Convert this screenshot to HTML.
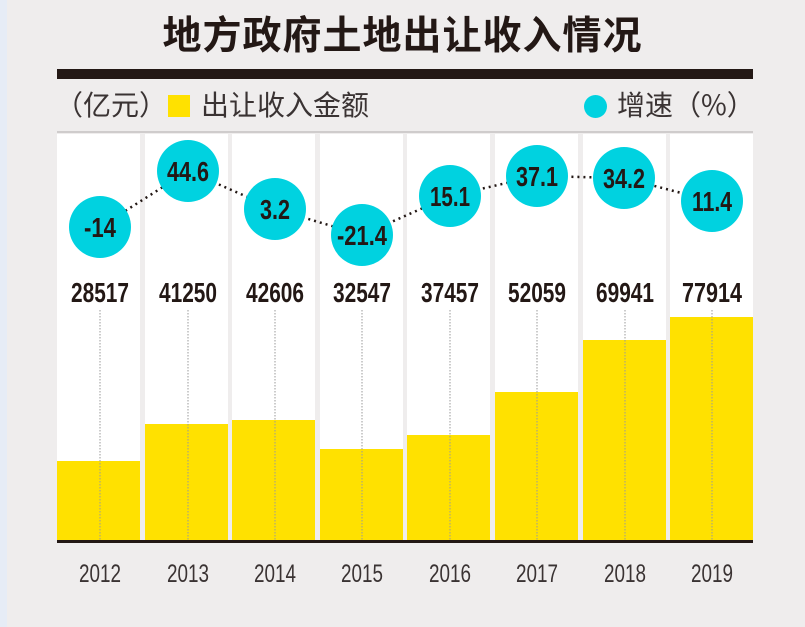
<!DOCTYPE html>
<html><head><meta charset="utf-8"><style>
html,body{margin:0;padding:0}
body{width:805px;height:627px;background:#efeded;position:relative;overflow:hidden;font-family:"Liberation Sans","Noto Sans CJK SC",sans-serif}
.t{position:absolute;white-space:nowrap}
</style></head><body>
<div style="position:absolute;left:0;top:0;width:7px;height:627px;background:#e6ecf6"></div>
<div class="t" style="left:0;width:805px;text-align:center;top:5px;font-size:39px;font-weight:bold;color:#231815;letter-spacing:1px;font-family:'Noto Sans CJK SC',sans-serif">地方政府土地出让收入情况</div>
<div style="position:absolute;left:57px;top:69px;width:696px;height:10px;background:#231815"></div>
<div class="t" style="left:55px;top:84px;font-size:28px;color:#3a3333;font-family:'Noto Sans CJK SC',sans-serif">（亿元）</div>
<div style="position:absolute;left:168px;top:95px;width:22px;height:22px;background:#ffe100"></div>
<div class="t" style="left:201px;top:84px;font-size:28px;color:#3a3333;font-family:'Noto Sans CJK SC',sans-serif">出让收入金额</div>
<div style="position:absolute;left:584px;top:95px;width:23px;height:23px;border-radius:50%;background:#00d2e0"></div>
<div class="t" style="left:617px;top:84px;font-size:28px;color:#3a3333;font-family:'Noto Sans CJK SC',sans-serif">增速（%）</div>
<div style="position:absolute;left:57px;top:131px;width:696px;height:2px;background:#cfcccc"></div>
<svg style="position:absolute;left:0;top:0" width="805" height="627">
<g fill="#fff">
<rect x="57" y="134" width="83" height="407"/><rect x="145" y="134" width="83" height="407"/><rect x="232" y="134" width="83" height="407"/><rect x="320" y="134" width="83" height="407"/><rect x="407" y="134" width="83" height="407"/><rect x="495" y="134" width="83" height="407"/><rect x="583" y="134" width="83" height="407"/><rect x="670" y="134" width="83" height="407"/>
</g>
<g fill="#ffe100">
<rect x="57" y="461" width="83" height="80"/><rect x="145" y="424" width="83" height="117"/><rect x="232" y="420" width="83" height="121"/><rect x="320" y="449" width="83" height="92"/><rect x="407" y="435" width="83" height="106"/><rect x="495" y="392" width="83" height="149"/><rect x="583" y="340" width="83" height="201"/><rect x="670" y="317" width="83" height="224"/>
</g>
<g stroke="#9a9a9a" stroke-width="1" stroke-dasharray="1.5,1.5">
<line x1="100" y1="310" x2="100" y2="540"/><line x1="188" y1="310" x2="188" y2="540"/><line x1="275" y1="310" x2="275" y2="540"/><line x1="362" y1="310" x2="362" y2="540"/><line x1="450" y1="310" x2="450" y2="540"/><line x1="537" y1="310" x2="537" y2="540"/><line x1="625" y1="310" x2="625" y2="540"/><line x1="712" y1="310" x2="712" y2="540"/>
</g>
<rect x="57" y="540" width="696" height="3" fill="#231815"/>
<polyline points="100,227 188,171 275,209 362,235 450,196 537,176 624,178 712,201" fill="none" stroke="#231815" stroke-width="2.5" stroke-dasharray="2,4"/>
<g fill="#00d2e0">
<circle cx="100" cy="227" r="31"/><circle cx="188" cy="171" r="31"/><circle cx="275" cy="209" r="31"/><circle cx="362" cy="235" r="31"/><circle cx="450" cy="196" r="31"/><circle cx="537" cy="176" r="31"/><circle cx="624" cy="178" r="31"/><circle cx="712" cy="201" r="31"/>
</g>
<g font-family="Liberation Sans, sans-serif" font-weight="bold" fill="#231815" text-anchor="middle" font-size="28" lengthAdjust="spacingAndGlyphs">
<text x="100" y="237" textLength="32" lengthAdjust="spacingAndGlyphs">-14</text><text x="188" y="181" textLength="42" lengthAdjust="spacingAndGlyphs">44.6</text><text x="275" y="219" textLength="30" lengthAdjust="spacingAndGlyphs">3.2</text><text x="362" y="245" textLength="50" lengthAdjust="spacingAndGlyphs">-21.4</text><text x="450" y="206" textLength="40" lengthAdjust="spacingAndGlyphs">15.1</text><text x="537" y="186" textLength="42" lengthAdjust="spacingAndGlyphs">37.1</text><text x="624" y="188" textLength="42" lengthAdjust="spacingAndGlyphs">34.2</text><text x="712" y="211" textLength="40" lengthAdjust="spacingAndGlyphs">11.4</text>
</g>
<g font-family="Liberation Sans, sans-serif" font-weight="bold" fill="#231815" text-anchor="middle" font-size="28">
<text x="100" y="302" textLength="58" lengthAdjust="spacingAndGlyphs">28517</text><text x="188" y="302" textLength="58" lengthAdjust="spacingAndGlyphs">41250</text><text x="275" y="302" textLength="58" lengthAdjust="spacingAndGlyphs">42606</text><text x="362" y="302" textLength="58" lengthAdjust="spacingAndGlyphs">32547</text><text x="450" y="302" textLength="58" lengthAdjust="spacingAndGlyphs">37457</text><text x="537" y="302" textLength="58" lengthAdjust="spacingAndGlyphs">52059</text><text x="625" y="302" textLength="58" lengthAdjust="spacingAndGlyphs">69941</text><text x="712" y="302" textLength="60" lengthAdjust="spacingAndGlyphs">77914</text>
</g>
<g font-family="Liberation Sans, sans-serif" fill="#3a3333" text-anchor="middle" font-size="25">
<text x="100" y="582" textLength="42" lengthAdjust="spacingAndGlyphs">2012</text><text x="188" y="582" textLength="42" lengthAdjust="spacingAndGlyphs">2013</text><text x="275" y="582" textLength="42" lengthAdjust="spacingAndGlyphs">2014</text><text x="362" y="582" textLength="42" lengthAdjust="spacingAndGlyphs">2015</text><text x="450" y="582" textLength="42" lengthAdjust="spacingAndGlyphs">2016</text><text x="537" y="582" textLength="42" lengthAdjust="spacingAndGlyphs">2017</text><text x="625" y="582" textLength="42" lengthAdjust="spacingAndGlyphs">2018</text><text x="712" y="582" textLength="42" lengthAdjust="spacingAndGlyphs">2019</text>
</g>
</svg>
</body></html>
